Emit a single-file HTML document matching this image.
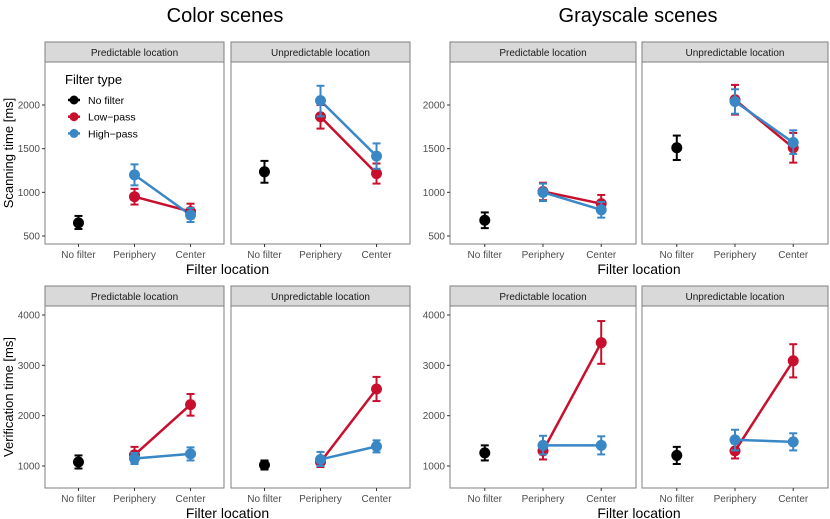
<!DOCTYPE html>
<html><head><meta charset="utf-8">
<style>
body{margin:0;background:#fff;}
svg{display:block;font-family:"Liberation Sans",sans-serif;}
</style></head>
<body>
<svg id="chart" width="830" height="519" viewBox="0 0 830 519">
<text x="225" y="22" font-size="20" text-anchor="middle">Color scenes</text>
<text x="638" y="22" font-size="20" text-anchor="middle">Grayscale scenes</text>
</svg>
<script>
const categories=["No filter","Periphery","Center"];
const facets=["Predictable location","Unpredictable location"];
const scanTicks=[500,1000,1500,2000];
const verifTicks=[1000,2000,3000,4000];
const colorScanNo=[[650,580,730],[1235,1110,1360]];
const colorScanLow=[[[950,860,1040],[780,700,870]],[[1865,1730,2000],[1215,1100,1330]]];
const colorScanHigh=[[[1200,1080,1320],[740,660,820]],[[2050,1870,2220],[1415,1270,1560]]];
const grayScanNo=[[680,590,770],[1510,1370,1650]];
const grayScanLow=[[[1010,910,1110],[870,770,970]],[[2060,1890,2230],[1510,1340,1680]]];
const grayScanHigh=[[[1000,900,1100],[800,710,890]],[[2040,1900,2180],[1570,1440,1710]]];
const colorVerNo=[[1080,950,1210],[1020,930,1110]];
const colorVerLow=[[[1220,1060,1380],[2220,2000,2430]],[[1080,980,1180],[2530,2290,2770]]];
const colorVerHigh=[[[1150,1040,1260],[1240,1110,1370]],[[1130,1000,1280],[1390,1270,1510]]];
const grayVerNo=[[1260,1110,1410],[1210,1040,1380]];
const grayVerLow=[[[1300,1130,1460],[3450,3030,3880]],[[1300,1150,1450],[3090,2760,3420]]];
const grayVerHigh=[[[1410,1230,1600],[1410,1230,1590]],[[1520,1310,1720],[1480,1310,1650]]];

const NS="http://www.w3.org/2000/svg";
const svg=document.getElementById("chart");
const RED="#c8102e",BLUE="#3a87c6",BLACK="#000";
function mk(tag,attrs,parent){const e=document.createElementNS(NS,tag);for(const k in attrs)e.setAttribute(k,attrs[k]);(parent||svg).appendChild(e);return e;}

function block(x0,pw,gap,top,ticks,yv,noF,low,high,ylab,prefix,legend){
  const panels=[[x0,x0+pw],[x0+pw+gap,x0+2*pw+gap]];
  const plotTop=top+20,plotBot=top+202;
  const yS=v=>yv[0]+(v-yv[1])*yv[2];
  const step=pw*0.313,off=pw*0.187;
  panels.forEach((p,pi)=>{
    const g=mk("g",{});
    
    
    const st=mk("rect",{x:p[0],y:top,width:p[1]-p[0],height:20,fill:"#d9d9d9",stroke:"#7f7f7f","stroke-width":1},g);
    
    
    const stt=mk("text",{x:(p[0]+p[1])/2,y:top+14,"font-size":10,"text-anchor":"middle",fill:"#1a1a1a"},g);
    stt.textContent=facets[pi];
    
    
    const fr=mk("rect",{x:p[0],y:plotTop,width:p[1]-p[0],height:plotBot-plotTop,fill:"none",stroke:"#7f7f7f","stroke-width":1},g);
    
    
    const xs=i=>p[0]+off+i*step;
    categories.forEach((c,i)=>{
      mk("line",{x1:xs(i),x2:xs(i),y1:plotBot,y2:plotBot+3,stroke:"#333"},g);
      const t=mk("text",{x:xs(i),y:plotBot+14,"font-size":10,"text-anchor":"middle",fill:"#4d4d4d"},g);
      t.textContent=c;
      
      
    });
    if(pi===0){
      ticks.forEach(v=>{
        mk("line",{x1:p[0]-3,x2:p[0],y1:yS(v),y2:yS(v),stroke:"#333"},g);
        const t=mk("text",{x:p[0]-5,y:yS(v)+3.5,"font-size":10,"text-anchor":"end",fill:"#4d4d4d"},g);
        t.textContent=v;
        
        
      });
    }
    const series=[[low[pi],RED,'low-pass'],[high[pi],BLUE,'high-pass']];
    series.forEach(([d,col,nm])=>{
      const ln=mk("line",{x1:xs(1),y1:yS(d[0][0]),x2:xs(2),y2:yS(d[1][0]),stroke:col,"stroke-width":2.5},g);
      
      
    });
    function pt(x,d,col,nm){
      mk("line",{x1:x,x2:x,y1:yS(d[1]),y2:yS(d[2]),stroke:col,"stroke-width":2},g);
      mk("line",{x1:x-4,x2:x+4,y1:yS(d[1]),y2:yS(d[1]),stroke:col,"stroke-width":2},g);
      mk("line",{x1:x-4,x2:x+4,y1:yS(d[2]),y2:yS(d[2]),stroke:col,"stroke-width":2},g);
      const c=mk("circle",{cx:x,cy:yS(d[0]),r:5.5,fill:col},g);
      
      
    }
    pt(xs(0),noF[pi],BLACK,'no-filter');
    series.forEach(([d,col,nm])=>{pt(xs(1),d[0],col,nm);pt(xs(2),d[1],col,nm);});
  });
  const xl=mk("text",{x:(panels[0][0]+panels[1][1])/2,y:plotBot+30,"font-size":14,"text-anchor":"middle"});
  xl.textContent="Filter location";
  
  
  if(ylab){
    const cy=(plotTop+plotBot)/2;
    const yl=mk("text",{x:13,y:cy,"font-size":13,"text-anchor":"middle",transform:`rotate(-90 13 ${cy})`});
    yl.textContent=ylab;
    
    
  }
  if(legend){
    const lg=mk("g",{});
    
    
    const t=mk("text",{x:65,y:84,"font-size":13},lg);t.textContent="Filter type";
    [["No filter",BLACK],["Low\u2212pass",RED],["High\u2212pass",BLUE]].forEach(([n,c],i)=>{
      const y=100+i*16.7;
      mk("line",{x1:68,x2:80,y1:y,y2:y,stroke:c,"stroke-width":2.5},lg);
      mk("circle",{cx:74,cy:y,r:4.5,fill:c},lg);
      const tt=mk("text",{x:88,y:y+4,"font-size":10.5},lg);tt.textContent=n;
      
      
    });
  }
}
block(45,179,7,42,scanTicks,[105,2000,-131/1500],colorScanNo,colorScanLow,colorScanHigh,"Scanning time [ms]","color-scan",true);
block(450,186,6,42,scanTicks,[105,2000,-131/1500],grayScanNo,grayScanLow,grayScanHigh,null,"gray-scan",false);
block(45,179,7,286,verifTicks,[315,4000,-151/3000],colorVerNo,colorVerLow,colorVerHigh,"Verification time [ms]","color-verif",false);
block(450,186,6,286,verifTicks,[315,4000,-151/3000],grayVerNo,grayVerLow,grayVerHigh,null,"gray-verif",false);
</script>
</body></html>
